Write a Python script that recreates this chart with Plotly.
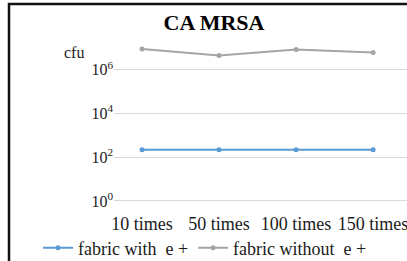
import plotly.graph_objects as go

categories = ["10 times", "50 times", "100 times", "150 times"]
with_e = [220, 220, 220, 220]
without_e = [9.0e6, 4.5e6, 8.5e6, 6.2e6]
ytick_vals = [1, 1e2, 1e4, 1e6]
ytick_text = ["10<sup>0</sup>", "10<sup>2</sup>", "10<sup>4</sup>", "10<sup>6</sup>"]

W, H = 407, 261
L, R, T, B = 114, 0, 37, 59
pw, ph = W - L - R, H - T - B

def px(x):
    return (x - L) / pw

def py(y):
    return (H - B - y) / ph

FONT = "Liberation Serif, Times New Roman, serif"

fig = go.Figure()
fig.add_trace(go.Scatter(
    x=categories, y=with_e, mode="lines+markers", name="fabric with  e +",
    line=dict(color="#5B9BD5", width=2), marker=dict(size=5, color="#5B9BD5"),
))
fig.add_trace(go.Scatter(
    x=categories, y=without_e, mode="lines+markers", name="fabric without  e +",
    line=dict(color="#A5A5A5", width=2), marker=dict(size=5, color="#A5A5A5"),
))

fig.update_layout(
    width=W, height=H,
    margin=dict(l=L, r=R, t=T, b=B, autoexpand=False),
    paper_bgcolor="white", plot_bgcolor="white",
    font=dict(family=FONT, color="#222"),
    title=dict(text="<b>CA MRSA</b>", x=214 / W, xref="container", xanchor="center",
               y=1 - 22 / H, yref="container", yanchor="middle",
               font=dict(size=22, color="black")),
    xaxis=dict(type="category", range=[-0.364, 3.44], showgrid=False,
               showline=False, zeroline=False, ticks="", ticklabelstandoff=9,
               tickfont=dict(size=18, color="#1a1a1a")),
    yaxis=dict(type="log", range=[-0.05, 7.5], tickvals=ytick_vals, ticktext=ytick_text,
               showgrid=True, gridcolor="#D9D9D9", gridwidth=1, zeroline=False,
               showline=False, ticks="", tickfont=dict(size=16, color="#222")),
    legend=dict(orientation="h", x=px(38), xanchor="left", y=py(248), yanchor="middle",
                font=dict(size=18, color="#1a1a1a"), bgcolor="rgba(0,0,0,0)"),
    showlegend=True,
)

fig.add_annotation(text="cfu", xref="paper", yref="paper", x=px(74), y=py(52),
                   xanchor="center", yanchor="middle", showarrow=False,
                   font=dict(size=16, color="#222"))

fig.add_shape(type="rect", xref="paper", yref="paper",
              x0=px(9), x1=px(W + 20), y0=py(H + 20), y1=py(4),
              line=dict(color="#111", width=2.5), fillcolor="rgba(0,0,0,0)")

fig.write_html("out.html", config={"displayModeBar": False},
               post_script="document.body.style.margin='0';document.body.style.overflow='hidden';")
